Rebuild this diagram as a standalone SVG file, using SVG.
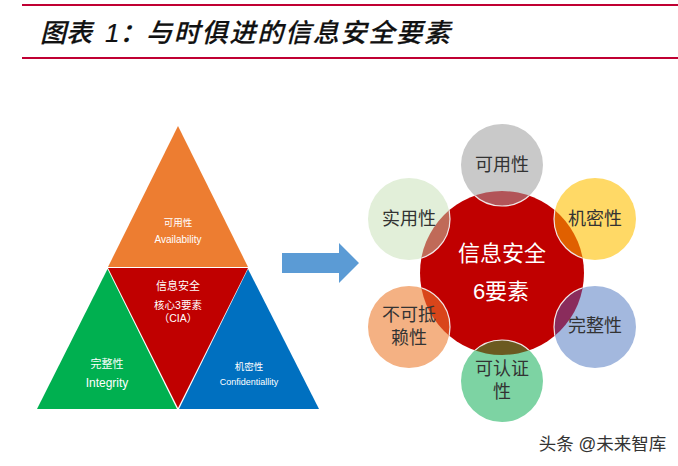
<svg xmlns="http://www.w3.org/2000/svg" width="678" height="466" viewBox="0 0 678 466">
<style>
text{font-family:"Liberation Sans","Noto Sans CJK SC",sans-serif;text-anchor:middle}
.w{fill:#fff}
.k{fill:#333;font-size:18px}
.ttl{text-anchor:start;font-size:26px;font-style:italic;font-weight:500;fill:#111;stroke:#111;stroke-width:.2}
.ov{stroke:#f0e4e4;stroke-width:1.2}
</style>
<defs>
<clipPath id="core"><circle cx="502" cy="273" r="82"/></clipPath>
</defs>
<rect width="678" height="466" fill="#fff"/>
<g id="header">
<rect x="22" y="4" width="656" height="2" fill="#c00033"/>
<rect x="22" y="57" width="656" height="2" fill="#c00033"/>
<text class="ttl" x="40" y="42">图表<tspan x="105">1：</tspan><tspan x="146" letter-spacing="1.8">与时俱进的信息安全要素</tspan></text>
</g>
<g id="tri-availability">
<polygon points="178,126 248,267 108,267" fill="#ed7d31"/>
<text class="w" x="178" y="226" font-size="9.500">可用性</text>
<text class="w" x="178" y="243" font-size="10">Availability</text>
</g>
<g id="tri-integrity">
<polygon points="107.500,269 177,409 37,409" fill="#00b050"/>
<text class="w" x="107" y="368" font-size="11">完整性</text>
<text class="w" x="107" y="387" font-size="12">Integrity</text>
</g>
<g id="tri-confidentiality">
<polygon points="248,269 319,409 179,409" fill="#0070c0"/>
<text class="w" x="249" y="370" font-size="9.500">机密性</text>
<text class="w" x="249" y="385" font-size="9">Confidentiallity</text>
</g>
<g id="tri-core">
<polygon points="108,268 248,268 178,408" fill="#c00000"/>
<text class="w" x="178" y="290" font-size="11">信息安全</text>
<text class="w" x="178" y="309" font-size="10.500">核心3要素</text>
<text class="w" x="178" y="322" font-size="10.500">（CIA）</text>
</g>
<g id="connectors">
<polygon points="282,253 339,253 339,243 359,263 339,283 339,273 282,273" fill="#5b9bd5"/>
</g>
<g id="node-core">
<circle cx="502" cy="273" r="82" fill="#c00000"/>
</g>
<g id="node-top">
<circle cx="502" cy="165" r="41" fill="#c9c9c9"/>
<circle class="ov" cx="502" cy="165" r="41" fill="#b25458" clip-path="url(#core)"/>
<text class="k" x="502" y="171">可用性</text>
</g>
<g id="node-upper-right">
<circle cx="595" cy="219" r="41" fill="#ffd966"/>
<circle class="ov" cx="595" cy="219" r="41" fill="#e06000" clip-path="url(#core)"/>
<text class="k" x="595" y="225">机密性</text>
</g>
<g id="node-lower-right">
<circle cx="595" cy="327" r="41" fill="#a3b8de"/>
<circle class="ov" cx="595" cy="327" r="41" fill="#8a2c5c" clip-path="url(#core)"/>
<text class="k" x="595" y="332">完整性</text>
</g>
<g id="node-bottom">
<circle cx="502" cy="381" r="41" fill="#7dd3a3"/>
<circle class="ov" cx="502" cy="381" r="41" fill="#6b5a20" clip-path="url(#core)"/>
<text class="k" x="502" y="375">可认证</text>
<text class="k" x="502" y="398">性</text>
</g>
<g id="node-lower-left">
<circle cx="409" cy="327" r="41" fill="#f4b183"/>
<circle class="ov" cx="409" cy="327" r="41" fill="#d9451a" clip-path="url(#core)"/>
<text class="k" x="409" y="321">不可抵</text>
<text class="k" x="409" y="344">赖性</text>
</g>
<g id="node-upper-left">
<circle cx="409" cy="219" r="41" fill="#e2efd9"/>
<circle class="ov" cx="409" cy="219" r="41" fill="#c06a58" clip-path="url(#core)"/>
<text class="k" x="409" y="225">实用性</text>
</g>
<g id="core-label">
<text class="w" x="502" y="261" font-size="22">信息安全</text>
<text class="w" x="501" y="299" font-size="22">6要素</text>
</g>
<g id="watermark">
<text x="602.500" y="450" style="font-size:17.500px" fill="#333">头条 @未来智库</text>
</g>
</svg>
